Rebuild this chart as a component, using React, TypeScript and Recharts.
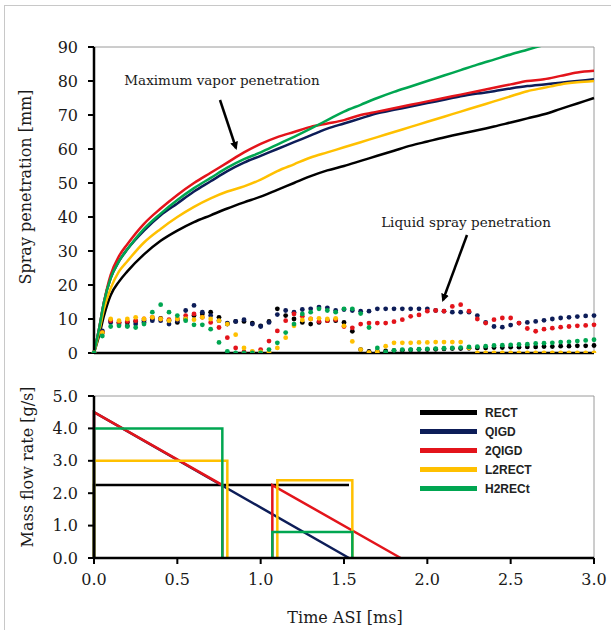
import React from 'react';
import { LineChart, Line, XAxis, YAxis, ReferenceLine } from 'recharts';

// time grid for the vapor curves [ms]
const vaporTime = [0, 0.03, 0.06, 0.1, 0.15, 0.2, 0.3, 0.4, 0.5, 0.6, 0.7, 0.8, 0.9, 1.0, 1.1, 1.2, 1.3, 1.4, 1.5, 1.6, 1.7, 1.8, 1.9, 2.0, 2.1, 2.2, 2.3, 2.4, 2.5, 2.6, 2.7, 2.8, 2.9, 3.0];

// maximum vapor penetration [mm]
const rectVapor = [0, 5, 11, 17, 21, 24, 29, 33, 36, 38.5, 40.5, 42.5, 44.3, 46, 48, 50, 52, 53.7, 55, 56.5, 58, 59.5, 61, 62.2, 63.4, 64.5, 65.5, 66.6, 67.8, 69, 70.2, 71.8, 73.4, 75];
const qigdVapor = [0, 7, 15, 22, 27, 30.5, 36, 40.5, 44, 47.5, 50.5, 53.5, 56, 58, 60, 62, 64, 66, 67.5, 69, 70.5, 71.5, 72.5, 73.5, 74.5, 75.5, 76.3, 77, 77.8, 78.5, 79, 79.5, 80, 80.5];
const qigd2Vapor = [0, 7, 15, 23, 28.5, 32, 38, 42.5, 46.5, 50, 53, 56, 59, 61.5, 63.5, 65, 66.5, 67.5, 68.5, 70, 71, 72, 73, 74, 75, 76, 77, 78, 79, 80, 80.5, 81.5, 82.5, 83];
const l2rectVapor = [0, 6, 13, 19, 24, 27, 32.5, 36.5, 40, 43, 45.5, 47.5, 49, 51, 53.5, 55.5, 57.5, 59, 60.5, 62, 63.5, 65, 66.5, 68, 69.5, 71, 72.5, 74, 75.5, 77, 78, 79, 79.6, 80];
const h2rectVapor = [0, 7, 15, 22, 27, 30.5, 36.5, 41, 45, 48.5, 51.5, 54.5, 57, 59, 61.3, 63.6, 66, 68.5, 71, 73, 75, 76.8, 78.4, 80, 81.6, 83.2, 84.8, 86.3, 87.8, 89.2, 90.6, 92, 93.4, 94.8];

// time grid for the liquid penetration dots [ms]
const liquidTime = [0, 0.05, 0.1, 0.15, 0.2, 0.25, 0.3, 0.35, 0.4, 0.45, 0.5, 0.55, 0.6, 0.65, 0.7, 0.75, 0.8, 0.85, 0.9, 0.95, 1.0, 1.05, 1.1, 1.15, 1.2, 1.25, 1.3, 1.35, 1.4, 1.45, 1.5, 1.55, 1.6, 1.65, 1.7, 1.75, 1.8, 1.85, 1.9, 1.95, 2.0, 2.05, 2.1, 2.15, 2.2, 2.25, 2.3, 2.35, 2.4, 2.45, 2.5, 2.55, 2.6, 2.65, 2.7, 2.75, 2.8, 2.85, 2.9, 2.95, 3.0];

// liquid spray penetration [mm]
const rectLiquid = [0, 6, 9.5, 9, 9, 9.3, 9.5, 10, 10.2, 9.5, 9, 10, 11, 11.5, 12, 10.5, 8.5, 9.3, 9.3, 8.8, 8, 9.3, 13, 11, 10, 9, 8.5, 9, 9.5, 9.5, 9, 6.4, 1, 0.5, 0.5, 0.6, 0.7, 0.8, 0.9, 1, 1, 1.1, 1.2, 1.3, 1.3, 1.4, 1.5, 1.5, 1.6, 1.6, 1.7, 1.7, 1.8, 1.8, 1.9, 1.9, 2, 2, 2.1, 2.1, 2.2];
const qigdLiquid = [0, 6.5, 9, 8.5, 8, 8.5, 9, 9.5, 9.5, 8.5, 9.5, 12.5, 14, 12, 11, 9.5, 8.8, 9.3, 9.8, 8.5, 7.8, 9, 11.3, 12.5, 12, 12.8, 13, 13.5, 13.3, 12.5, 12.8, 12.5, 12.3, 12.3, 13, 13, 13, 13, 13, 13, 13, 12.5, 12.3, 12, 12, 12, 11, 9, 7.8, 7.6, 8.2, 8.8, 9, 9.3, 9.6, 10, 10.3, 10.5, 10.7, 10.9, 11];
const qigd2Liquid = [0, 6, 9.5, 9, 9.3, 9.5, 10, 10.5, 10, 9.8, 10, 11, 11.5, 10.5, 9, 7.5, 4.5, 1.5, 0.3, 0.3, 1, 3.5, 6.5, 9.5, 11.5, 10.8, 10, 9.3, 9.5, 9.8, 7.8, 7.4, 8.5, 8.8, 8.8, 8.8, 9.2, 9.8, 10.8, 11.2, 12.3, 12.5, 12.3, 13.7, 14.2, 12.3, 10, 8.8, 9.8, 10.3, 10.3, 8.8, 7.2, 6.4, 7, 7.3, 7.6, 7.8, 8, 8.1, 8.3];
const l2rectLiquid = [0, 6, 10, 9.5, 10, 10.5, 10, 10.5, 10, 9.5, 10, 10, 9.8, 10.5, 10, 9.5, 8.5, 5.4, 1.5, 0.5, 0.3, 0.3, 1.5, 4.5, 8, 9.7, 10, 10.2, 10, 10.2, 8, 3.4, 1, 0.2, 0.3, 2, 3, 3, 3, 3.1, 3.1, 3.2, 3.2, 3.2, 3.2, 1.5, 0, 0, 0, 0, 0, 0, 0, 0, 0, 0, 0, 0, 0, 0, 0];
const h2rectLiquid = [0, 5, 7.8, 8, 7.8, 7.5, 8.5, 12, 14.2, 12, 11, 9.5, 8.3, 8.3, 7, 3.1, 0.5, 0, 0, 0, 0, 1, 3, 6, 8.5, 11.5, 12, 13, 12.5, 12, 13, 13, 11.6, 7.5, 1.5, 0.3, 0.8, 1, 1, 1.1, 1.2, 1.3, 1.4, 1.5, 1.6, 1.8, 1.9, 2, 2.2, 2.3, 2.4, 2.5, 2.6, 2.8, 2.9, 3, 3.2, 3.3, 3.5, 3.7, 3.9];

// injection rate profiles [ms] / [g/s]; null breaks the line
const rectFlowT = [0, 0, 1.53];
const rectFlow = [0, 2.25, 2.25];
const qigdFlowT = [0, 0, 1.53];
const qigdFlow = [0, 4.5, 0];
const qigd2FlowT = [0, 0, 0.77, 0.77, 0.9, 1.07, 1.07, 1.84];
const qigd2Flow = [0, 4.5, 2.25, 0, null, 0, 2.25, 0];
const l2rectFlowT = [0, 0, 0.8, 0.8, 0.95, 1.1, 1.1, 1.55, 1.55];
const l2rectFlow = [0, 3, 3, 0, null, 0, 2.4, 2.4, 0];
const h2rectFlowT = [0, 0, 0.77, 0.77, 0.9, 1.07, 1.07, 1.55, 1.55];
const h2rectFlow = [0, 4, 4, 0, null, 0, 0.8, 0.8, 0];

const timeTicks = [0, 0.5, 1.0, 1.5, 2.0, 2.5, 3.0];
const penTicks = [0, 10, 20, 30, 40, 50, 60, 70, 80, 90];
const flowTicks = [0, 1, 2, 3, 4, 5];

const names = ['RECT', 'QIGD', '2QIGD', 'L2RECT', 'H2RECt'];
const colors = ['#000000', '#0d1d58', '#e3141b', '#ffc000', '#00a651'];

const pts = (ts: number[], vs: (number | null)[]) => ts.map((t, i) => ({ t, v: vs[i] }));

const vapor = [rectVapor, qigdVapor, qigd2Vapor, l2rectVapor, h2rectVapor].map((v) => pts(vaporTime, v));
const liquid = [rectLiquid, qigdLiquid, qigd2Liquid, l2rectLiquid, h2rectLiquid].map((v) => pts(liquidTime, v));
const flow = [
  pts(rectFlowT, rectFlow),
  pts(qigdFlowT, qigdFlow),
  pts(qigd2FlowT, qigd2Flow),
  pts(l2rectFlowT, l2rectFlow),
  pts(h2rectFlowT, h2rectFlow),
];

const serif = 'DejaVu Serif';
const tickStyle = { fontFamily: serif, fontSize: 16, fill: '#1a1a1a' };
const axisLine = { stroke: '#000', strokeWidth: 2.5 };
const tickLine = { stroke: '#000', strokeWidth: 2 };

const FlowLegend = () => (
  <div
    style={{
      position: 'absolute',
      left: 420,
      top: 403,
      fontFamily: 'Liberation Sans',
      fontWeight: 'bold',
      fontSize: 12,
      color: '#222',
    }}
  >
    {names.map((n, i) => (
      <div key={n} style={{ display: 'flex', alignItems: 'center', height: 19 }}>
        <div style={{ width: 57, height: 5, background: colors[i], marginRight: 8 }} />
        <span>{n}</span>
      </div>
    ))}
  </div>
);

export default function App() {
  return (
    <div style={{ position: 'absolute', left: 0, top: 0, width: 611, height: 630, background: '#fff', overflow: 'hidden' }}>
      <div style={{ position: 'absolute', left: 4, top: 5, width: 620, height: 640, borderLeft: '1px solid #c8c8c8', borderTop: '1px solid #c8c8c8' }} />

      <div style={{ position: 'absolute', left: 0, top: 0 }}>
        <LineChart width={611} height={365} margin={{ top: 47, right: 17, bottom: 0, left: 34 }}>
          <XAxis
            type="number"
            dataKey="t"
            domain={[0, 3]}
            ticks={timeTicks}
            height={12}
            tick={false}
            tickSize={6}
            axisLine={axisLine}
            tickLine={tickLine}
          />
          <YAxis
            type="number"
            domain={[0, 90]}
            ticks={penTicks}
            allowDataOverflow
            width={60}
            tickSize={6}
            tickMargin={10}
            tick={tickStyle}
            axisLine={axisLine}
            tickLine={tickLine}
          />
          <ReferenceLine y={90} stroke="#9a9a9a" strokeWidth={1} />
          <ReferenceLine x={3} stroke="#9a9a9a" strokeWidth={1} />
          {liquid.map((d, i) => (
            <Line
              key={'liq' + i}
              data={d}
              dataKey="v"
              stroke="none"
              dot={{ r: 2.4, fill: colors[i], stroke: 'none' }}
              isAnimationActive={false}
            />
          ))}
          {vapor.map((d, i) => (
            <Line
              key={'vap' + i}
              data={d}
              dataKey="v"
              type="monotone"
              stroke={colors[i]}
              strokeWidth={2.5}
              dot={false}
              isAnimationActive={false}
            />
          ))}
        </LineChart>
      </div>

      <div style={{ position: 'absolute', left: 0, top: 365 }}>
        <LineChart width={611} height={265} margin={{ top: 31, right: 17, bottom: 37, left: 34 }}>
          <XAxis
            type="number"
            dataKey="t"
            domain={[0, 3]}
            ticks={timeTicks}
            height={35}
            tickSize={6}
            tickMargin={10}
            tickFormatter={(v: number) => v.toFixed(1)}
            tick={tickStyle}
            axisLine={axisLine}
            tickLine={tickLine}
          />
          <YAxis
            type="number"
            domain={[0, 5]}
            ticks={flowTicks}
            width={60}
            tickSize={6}
            tickMargin={10}
            tickFormatter={(v: number) => v.toFixed(1)}
            tick={tickStyle}
            axisLine={axisLine}
            tickLine={tickLine}
          />
          <ReferenceLine y={5} stroke="#9a9a9a" strokeWidth={1} />
          <ReferenceLine x={3} stroke="#9a9a9a" strokeWidth={1} />
          {flow.map((d, i) => (
            <Line
              key={'flow' + i}
              data={d}
              dataKey="v"
              name={names[i]}
              type="linear"
              stroke={colors[i]}
              strokeWidth={2.5}
              dot={false}
              connectNulls={false}
              isAnimationActive={false}
            />
          ))}
        </LineChart>
      </div>

      <FlowLegend />

      <svg width={611} height={630} style={{ position: 'absolute', left: 0, top: 0, pointerEvents: 'none' }}>
        <defs>
          <marker id="head" markerWidth="8" markerHeight="8" refX="6" refY="4" orient="auto" markerUnits="userSpaceOnUse">
            <path d="M0,0 L8,4 L0,8 z" fill="#000" />
          </marker>
        </defs>
        <text x={25} y={187} transform="rotate(-90 25 187)" textAnchor="middle" dominantBaseline="central" fontFamily={serif} fontSize={16} fill="#1a1a1a">
          Spray penetration [mm]
        </text>
        <text x={27} y={467} transform="rotate(-90 27 467)" textAnchor="middle" dominantBaseline="central" fontFamily={serif} fontSize={16} fill="#1a1a1a">
          Mass flow rate [g/s]
        </text>
        <text x={345} y={617} textAnchor="middle" dominantBaseline="central" fontFamily={serif} fontSize={16} fill="#1a1a1a">
          Time ASI [ms]
        </text>
        <text x={222} y={80} textAnchor="middle" dominantBaseline="central" fontFamily={serif} fontSize={13.5} fill="#1a1a1a">
          Maximum vapor penetration
        </text>
        <text x={466} y={222} textAnchor="middle" dominantBaseline="central" fontFamily={serif} fontSize={13.5} fill="#1a1a1a">
          Liquid spray penetration
        </text>
        <line x1={220} y1={100} x2={236} y2={148} stroke="#000" strokeWidth={2.5} markerEnd="url(#head)" />
        <line x1={467} y1={235} x2={443} y2={300} stroke="#000" strokeWidth={2.5} markerEnd="url(#head)" />
      </svg>
    </div>
  );
}
